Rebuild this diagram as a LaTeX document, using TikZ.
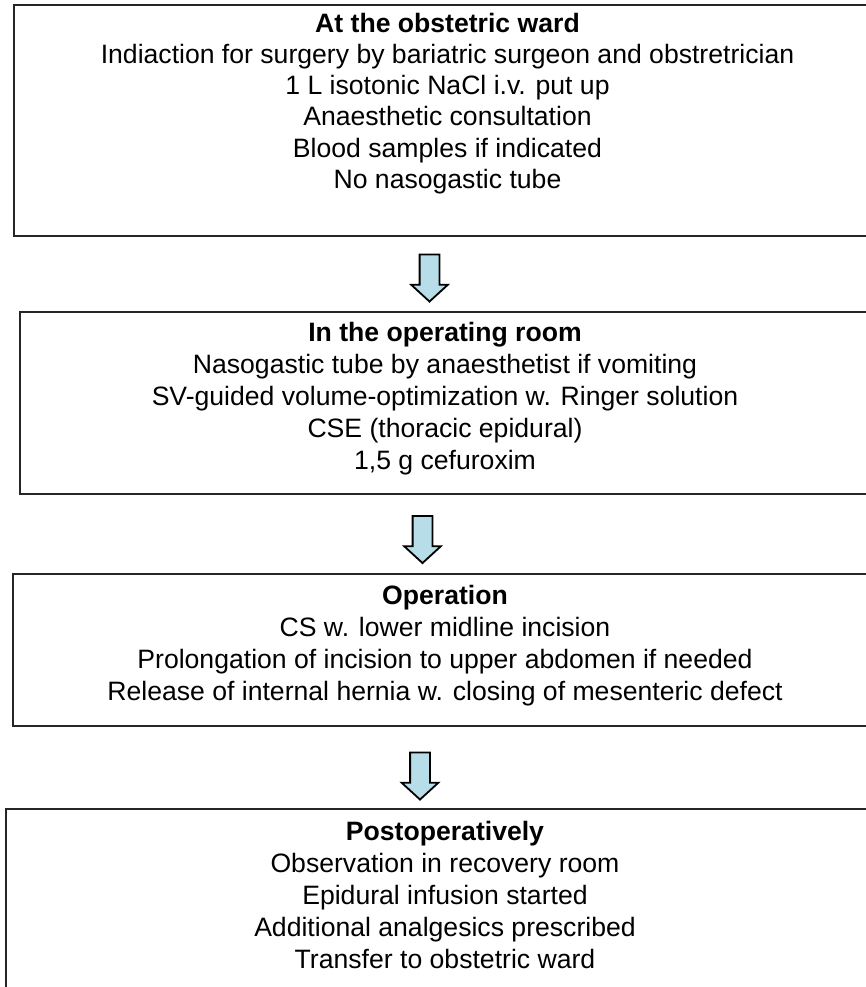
\documentclass[tikz,border=0pt]{standalone}
\usepackage{fontspec}
\setmainfont{Liberation Sans}
\usetikzlibrary{shapes.arrows}
\definecolor{arrowfill}{RGB}{183,222,232}

\begin{document}
\begin{tikzpicture}[x=1pt, y=-1pt,
    stage/.style={draw=black!85, line width=1pt, inner sep=0pt, anchor=north west, font=\fontsize{13.3}{16}\selectfont},
    flowarrow/.style={single arrow, draw=black, line width=0.9pt, fill=arrowfill, shape border rotate=270, inner sep=4.5pt, minimum height=23.5pt, minimum width=17.5pt, single arrow head extend=4.25pt, single arrow tip angle=95}
]
\useasboundingbox (0,0) rectangle (433,493.5);
\clip (0,0) rectangle (433,493.5);

% Define the four stages
\node[stage, font=\fontsize{13.3}{15.6}\selectfont] (ward) at (6.5,2) {\parbox[c][115.5pt][t]{433.5pt}{\centering\vspace*{4pt}%
    \textbf{At the obstetric ward}\\
    Indiaction for surgery by bariatric surgeon and obstretrician\\
    1 L isotonic NaCl i.v. put up\\
    Anaesthetic consultation\\
    Blood samples if indicated\\
    No nasogastic tube}};
\node[stage] (room) at (9.5,155.5) {\parbox[c][91pt][t]{425pt}{\centering\vspace*{5pt}%
    \textbf{In the operating room}\\
    Nasogastic tube by anaesthetist if vomiting\\
    SV-guided volume-optimization w. Ringer solution\\
    CSE (thoracic epidural)\\
    1,5 g cefuroxim}};
\node[stage] (op) at (6,286.5) {\parbox[c][76pt][t]{432pt}{\centering\vspace*{5.5pt}%
    \textbf{Operation}\\
    CS w. lower midline incision\\
    Prolongation of incision to upper abdomen if needed\\
    Release of internal hernia w. closing of mesenteric defect}};
\node[stage] (post) at (2.5,404) {\parbox[c][95pt][t]{439pt}{\centering\vspace*{6pt}%
    \textbf{Postoperatively}\\
    Observation in recovery room\\
    Epidural infusion started\\
    Additional analgesics prescribed\\
    Transfer to obstetric ward}};

% Define arrows between stages
\node[flowarrow] (a1) at (214.75,136.75) {};
\node[flowarrow] (a2) at (211.25,267.5) {};
\node[flowarrow] (a3) at (210,385.75) {};

\end{tikzpicture}
\end{document}
